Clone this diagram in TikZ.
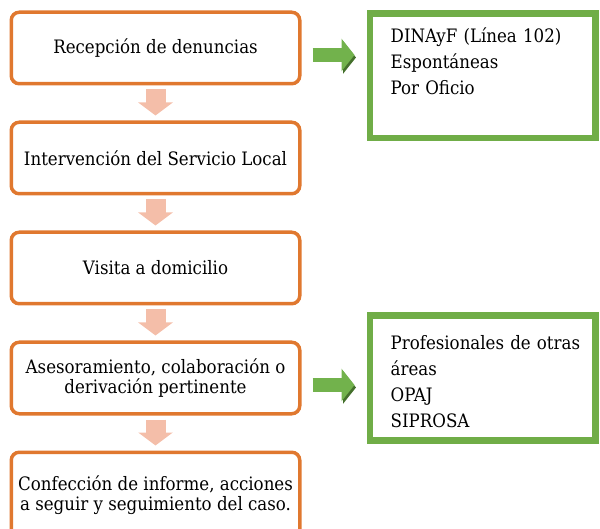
\documentclass[tikz,border=0pt]{standalone}
\usepackage{fontspec}
\setmainfont{DejaVu Serif Condensed}
\usetikzlibrary{positioning,arrows.meta}
\definecolor{boxorange}{HTML}{E0782F}
\definecolor{boxgreen}{HTML}{70AD47}
\definecolor{arrowpink}{HTML}{F4BEA9}
\definecolor{arrowgreen}{HTML}{72B24C}
\definecolor{shadowgreen}{HTML}{44702C}

\begin{document}
\begin{tikzpicture}
[x=1pt, y=1pt,
stepnode/.style={rectangle, rounded corners=8pt, draw=boxorange, line width=3.5pt, minimum width=288.5pt, minimum height=71.5pt, align=center, font=\fontsize{18.5}{20}\selectfont},
listbox/.style={rectangle, draw=boxgreen, line width=6.5pt, minimum width=225.5pt, minimum height=124.5pt},
listtext/.style={anchor=base west, text width=205pt, align=left, inner sep=0pt, font=\fontsize{18.5}{26}\selectfont},
downarrow/.style={draw=arrowpink, line width=20pt, -{Triangle[width=34pt,length=13pt]}, shorten <=4pt, shorten >=5pt},
sidearrow/.style={draw=arrowgreen, line width=14pt, -{Triangle[width=32pt,length=13pt]}, shorten <=11pt, shorten >=12pt, preaction={draw=shadowgreen, transform canvas={shift={(1.5pt,-2.5pt)}}}},
]
\useasboundingbox (0,0) rectangle (600,528);

\node[stepnode]	(recepcion) at (155.5,480) {Recepción de denuncias};
\node[stepnode]	(intervencion) [below=35pt of recepcion] {Intervención del Servicio Local};
\node[stepnode]	(visita) [below=35pt of intervencion] {Visita a domicilio};
\node[stepnode]	(asesoramiento) [below=35pt of visita] {Asesoramiento, colaboración o\\derivación pertinente};
\node[stepnode, minimum height=85pt]	(informe) [below=35pt of asesoramiento] {Confección de informe, acciones\\a seguir y seguimiento del caso.};

\node[listbox]	(origenes) [right=65pt of recepcion.north east, anchor=north west] {};
\node[listbox]	(recursos) [right=65pt of asesoramiento] {};
\node[listtext]	(origenestxt) at ([shift={(24pt,-32pt)}]origenes.north west) {DINAyF (Línea 102)\\Espontáneas\\Por Oficio};
\node[listtext]	(recursostxt) at ([shift={(24pt,-37pt)}]recursos.north west) {Profesionales de otras\\áreas\\OPAJ\\SIPROSA};

\draw[downarrow] (recepcion) -- (intervencion);
\draw[downarrow] (intervencion) -- (visita);
\draw[downarrow] (visita) -- (asesoramiento);
\draw[downarrow] (asesoramiento) -- (informe);

\draw[sidearrow] ([yshift=-7pt]recepcion.east) -- ([yshift=-7pt]recepcion.east -| origenes.west);
\draw[sidearrow] ([yshift=-7pt]asesoramiento.east) -- ([yshift=-7pt]asesoramiento.east -| recursos.west);
\end{tikzpicture}
\end{document}
